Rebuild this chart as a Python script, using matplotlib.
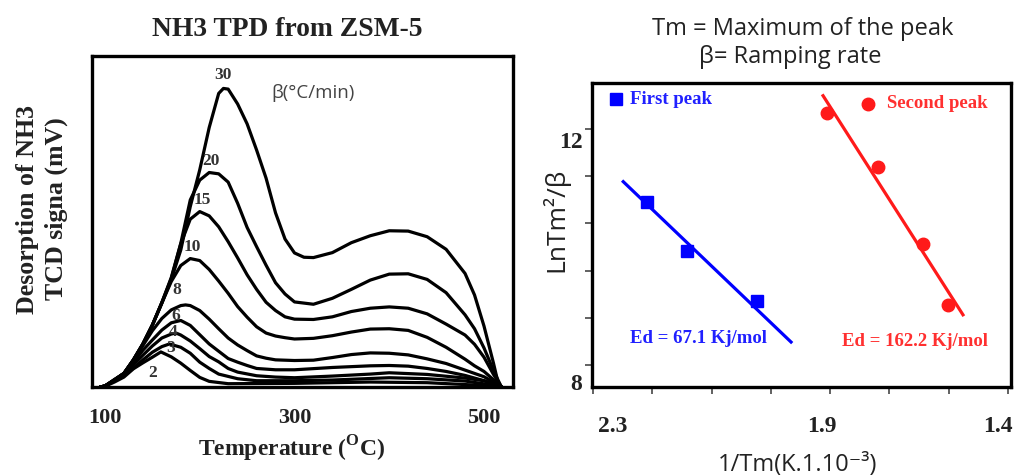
import numpy as np
import matplotlib
matplotlib.use("Agg")
import matplotlib.pyplot as plt

plt.rcParams['mathtext.fontset'] = 'custom'
plt.rcParams['mathtext.rm'] = 'Liberation Serif'
plt.rcParams['mathtext.bf'] = 'Liberation Serif:bold'

SERIF = ['Liberation Serif', 'DejaVu Serif']
SANS = ['Open Sans', 'DejaVu Sans']

# ---------------- Left panel data: NH3 TPD curves (T in degC, signal in mV, arbitrary) -------------
rates = ['30', '20', '15', '10', '8', '6', '4', '3', '2']

t30 = [95, 100, 110, 120, 130, 140, 150, 160, 170, 180, 190, 200, 210, 220, 225, 230, 240, 250, 260, 270,
       280, 290, 300, 310, 320, 340, 360, 380, 400, 420, 440, 460, 480, 490, 500, 510, 515, 518]
v30 = [0, 0.03, 0.21, 0.41, 0.82, 1.30, 1.87, 2.53, 3.25, 4.14, 5.45, 6.56, 7.84, 8.87, 9.02, 9.00, 8.55, 7.95,
       7.16, 6.31, 5.26, 4.47, 4.05, 3.92, 3.91, 4.06, 4.36, 4.57, 4.72, 4.71, 4.54, 4.16, 3.43, 2.78, 1.84,
       0.72, 0.11, 0.02]

t20 = [95, 100, 110, 120, 130, 140, 150, 160, 170, 180, 190, 200, 210, 220, 230, 240, 250, 260, 270, 280,
       290, 300, 320, 340, 360, 380, 400, 420, 440, 460, 480, 490, 500, 510, 518]
v20 = [0, 0.03, 0.21, 0.41, 0.82, 1.30, 1.87, 2.55, 3.31, 4.34, 5.65, 6.25, 6.48, 6.44, 6.19, 5.55, 4.82, 4.24,
       3.68, 3.15, 2.81, 2.57, 2.50, 2.68, 2.95, 3.23, 3.41, 3.42, 3.25, 2.85, 2.18, 1.76, 1.18, 0.50, 0.02]

t15 = [95, 100, 110, 120, 130, 140, 150, 160, 170, 180, 190, 200, 210, 220, 230, 240, 250, 260, 270, 280,
       290, 300, 320, 340, 360, 380, 400, 420, 440, 460, 480, 490, 500, 510, 518]
v15 = [0, 0.03, 0.21, 0.41, 0.82, 1.30, 1.87, 2.55, 3.28, 4.33, 5.07, 5.30, 5.17, 4.84, 4.39, 3.90, 3.39, 2.95,
       2.56, 2.31, 2.12, 2.05, 2.04, 2.12, 2.28, 2.38, 2.42, 2.38, 2.21, 1.90, 1.57, 1.29, 0.90, 0.38, 0.02]

t10 = [95, 100, 110, 120, 130, 140, 150, 160, 170, 180, 190, 200, 210, 220, 230, 240, 250, 260, 270, 280,
       290, 300, 320, 340, 360, 380, 400, 420, 440, 460, 480, 490, 500, 510, 518]
v10 = [0, 0.03, 0.21, 0.41, 0.82, 1.30, 1.87, 2.54, 3.19, 3.67, 3.88, 3.82, 3.55, 3.20, 2.83, 2.43, 2.11, 1.82,
       1.63, 1.54, 1.49, 1.45, 1.47, 1.55, 1.66, 1.75, 1.76, 1.71, 1.50, 1.20, 0.84, 0.64, 0.47, 0.22, 0.02]

t8 = [95, 100, 110, 120, 130, 140, 150, 160, 170, 180, 185, 190, 200, 210, 220, 230, 240, 250, 260, 270,
      280, 300, 320, 340, 360, 380, 400, 420, 440, 460, 480, 500, 518]
v8 = [0, 0.03, 0.21, 0.41, 0.80, 1.25, 1.70, 2.07, 2.33, 2.46, 2.48, 2.46, 2.31, 2.05, 1.76, 1.48, 1.27, 1.10,
      0.94, 0.87, 0.82, 0.80, 0.81, 0.89, 0.98, 1.03, 1.02, 0.97, 0.85, 0.71, 0.51, 0.31, 0.02]

t6 = [95, 100, 110, 120, 130, 140, 150, 160, 170, 180, 190, 200, 210, 220, 230, 240, 250, 260, 280, 300,
      340, 380, 400, 420, 440, 460, 480, 500, 518]
v6 = [0, 0.03, 0.23, 0.41, 0.74, 1.11, 1.42, 1.72, 1.94, 2.01, 1.86, 1.58, 1.30, 1.08, 0.86, 0.75, 0.65, 0.56,
      0.52, 0.52, 0.59, 0.64, 0.65, 0.63, 0.56, 0.47, 0.35, 0.19, 0.02]

t4 = [95, 100, 110, 120, 130, 140, 150, 160, 170, 175, 180, 190, 200, 210, 220, 230, 240, 260, 280, 300,
      340, 380, 400, 440, 480, 500, 518]
v4 = [0, 0.03, 0.20, 0.38, 0.67, 0.96, 1.24, 1.48, 1.60, 1.63, 1.57, 1.39, 1.16, 0.92, 0.76, 0.56, 0.45, 0.34,
      0.30, 0.28, 0.33, 0.39, 0.43, 0.38, 0.27, 0.19, 0.02]

t3 = [95, 100, 110, 120, 130, 140, 150, 160, 168, 180, 190, 200, 210, 220, 240, 260, 300, 340, 400, 440,
      480, 518]
v3 = [0, 0.03, 0.18, 0.35, 0.57, 0.82, 1.05, 1.22, 1.30, 1.20, 1.02, 0.75, 0.56, 0.39, 0.25, 0.19, 0.19, 0.21,
      0.28, 0.25, 0.18, 0.02]

t2 = [95, 100, 110, 120, 130, 140, 150, 159, 170, 180, 190, 200, 210, 230, 300, 380, 440, 518]
v2 = [0, 0.02, 0.15, 0.30, 0.55, 0.73, 0.90, 1.06, 0.91, 0.72, 0.50, 0.29, 0.17, 0.10, 0.11, 0.15, 0.13, 0.02]

temp_ticks = [100, 300, 500]

# ---------------- Right panel data: Kissinger-type plot ---------------------------------------------
first_x = [2.209, 2.142, 2.024]
first_y = [10.98, 10.17, 9.33]
first_fit_x = [2.249, 1.966]
first_fit_y = [11.31, 8.66]

second_x = [1.906, 1.819, 1.743, 1.701]
second_y = [12.45, 11.56, 10.28, 9.28]
second_fit_x = [1.912, 1.676]
second_fit_y = [12.73, 9.11]

y_tick_vals = [12, 8]
x_tick_labels = ['2.3', '1.9', '1.4']

# ---------------- Figure -----------------------------------------------------------------------------
W, H = 1016, 476
fig = plt.figure(figsize=(W / 100, H / 100), dpi=100)


def fbox(x0, y0, x1, y1):
    return [x0 / W, 1 - y1 / H, (x1 - x0) / W, (y1 - y0) / H]


# Left panel
axL = fig.add_axes(fbox(92, 56, 513, 387))
curves = [(t30, v30), (t20, v20), (t15, v15), (t10, v10), (t8, v8), (t6, v6), (t4, v4), (t3, v3), (t2, v2)]
for t, v in curves:
    axL.plot(t, v, color='black', lw=2.3, solid_joinstyle='round', solid_capstyle='round')

axL.set_xlim(86.3, 530.6)
axL.set_ylim(0, 10)
axL.set_yticks([])
axL.set_xticks(temp_ticks)
axL.set_xticklabels([str(t) for t in temp_ticks])
axL.tick_params(axis='x', length=0, pad=15)
for lab in axL.get_xticklabels():
    lab.set_fontfamily(SERIF)
    lab.set_fontweight('bold')
    lab.set_fontsize(16)
    lab.set_color('#222222')
for s in axL.spines.values():
    s.set_linewidth(2.4)

label_offsets = {'30': (0, 13), '20': (2, 12), '15': (3, 12), '10': (2, 12), '8': (-9, 15),
                 '6': (-5, 4), '3': (1, -4), '4': (-3, 1), '2': (-8, -21)}
for name, (t, v) in zip(rates, curves):
    i = int(np.argmax(v))
    dx, dy = label_offsets[name]
    axL.annotate(name, xy=(t[i], v[i]), xytext=(dx, dy), textcoords='offset pixels',
                 ha='center', va='center', fontsize=12.5, fontweight='bold', family=SERIF,
                 color='#333333')

fig.text(313 / W, 1 - 93 / H, 'β(°C/min)', fontsize=13.5, family=SANS, color='#444444',
         ha='center', va='center')

fig.text(287 / W, 1 - 29 / H, 'NH3 TPD from ZSM-5', ha='center', va='center', fontsize=19.8,
         fontweight='bold', family=SERIF, color='#222222')
fig.text(292 / W, 1 - 449 / H, r'Temperature ($^{\mathbf{O}}$C)', ha='center', va='center', fontsize=17,
         fontweight='bold', family=SERIF, color='#222222')
fig.text(42 / W, 1 - 209 / H, 'Desorption of NH3\nTCD signa (mV)', ha='center', va='center', rotation=90,
         fontsize=18.6, fontweight='bold', family=SERIF, color='#222222', linespacing=1.35)

# Right panel
axR = fig.add_axes(fbox(592, 83, 1011, 387))
axR.plot(first_fit_x, first_fit_y, color='#0000ff', lw=2.3)
axR.plot(first_x, first_y, 's', color='#0000ff', ms=8)
axR.plot(second_fit_x, second_fit_y, color='#ff1a1a', lw=2.3)
axR.plot(second_x, second_y, 'o', color='#ff1a1a', ms=9)

axR.set_xlim(2.3017, 1.595)
axR.set_ylim(7.917, 12.94)

# tick labels sit where the original figure prints them; tick marks at 0.1 steps
axR.set_xticks([2.266, 1.914, 1.617])
axR.set_xticklabels(x_tick_labels)
axR.set_xticks(np.arange(2.3, 1.55, -0.1), minor=True)
axR.set_yticks(y_tick_vals)
axR.set_yticklabels([str(v) for v in y_tick_vals])
axR.set_yticks(np.linspace(8.28, 12.18, 6), minor=True)
axR.tick_params(axis='both', which='major', length=0)
axR.tick_params(axis='x', which='major', pad=21)
axR.tick_params(axis='y', which='major', pad=7)
axR.tick_params(axis='both', which='minor', length=5, width=1.3, direction='out', color='#555555')
for lab in axR.get_xticklabels() + axR.get_yticklabels():
    lab.set_fontfamily(SERIF)
    lab.set_fontweight('bold')
    lab.set_fontsize(17)
    lab.set_color('#222222')
for s in axR.spines.values():
    s.set_linewidth(2.4)

# legend-like annotations
axR.plot([0.057], [0.947], 's', color='#0000ff', ms=8, transform=axR.transAxes, clip_on=False)
axR.text(0.091, 0.947, 'First peak', transform=axR.transAxes, color='#2020ff', fontsize=13.5,
         fontweight='bold', family=SERIF, ha='left', va='center')
axR.plot([0.659], [0.932], 'o', color='#ff1a1a', ms=9, transform=axR.transAxes, clip_on=False)
axR.text(0.704, 0.932, 'Second peak', transform=axR.transAxes, color='#ff3030', fontsize=13.5,
         fontweight='bold', family=SERIF, ha='left', va='center')
axR.text(0.255, 0.158, 'Ed = 67.1 Kj/mol', transform=axR.transAxes, color='#2020ff', fontsize=13.5,
         fontweight='bold', family=SERIF, ha='center', va='center')
axR.text(0.771, 0.151, 'Ed = 162.2 Kj/mol', transform=axR.transAxes, color='#ff3030', fontsize=13.5,
         fontweight='bold', family=SERIF, ha='center', va='center')

fig.text(803 / W, 1 - 29 / H, 'Tm = Maximum of the peak', ha='center', va='center', fontsize=17,
         family=SANS, color='#222222')
fig.text(790 / W, 1 - 57 / H, 'β= Ramping rate', ha='center', va='center', fontsize=17,
         family=SANS, color='#222222')
fig.text(555 / W, 1 - 220 / H, 'LnTm²/β', ha='center', va='center', rotation=90, fontsize=19,
         family=SANS, color='#222222')
fig.text(798 / W, 1 - 465 / H, '1/Tm(K.1.10⁻³)', ha='center', va='center', fontsize=17,
         family=SANS, color='#222222')

fig.savefig('out.png', dpi=100)
